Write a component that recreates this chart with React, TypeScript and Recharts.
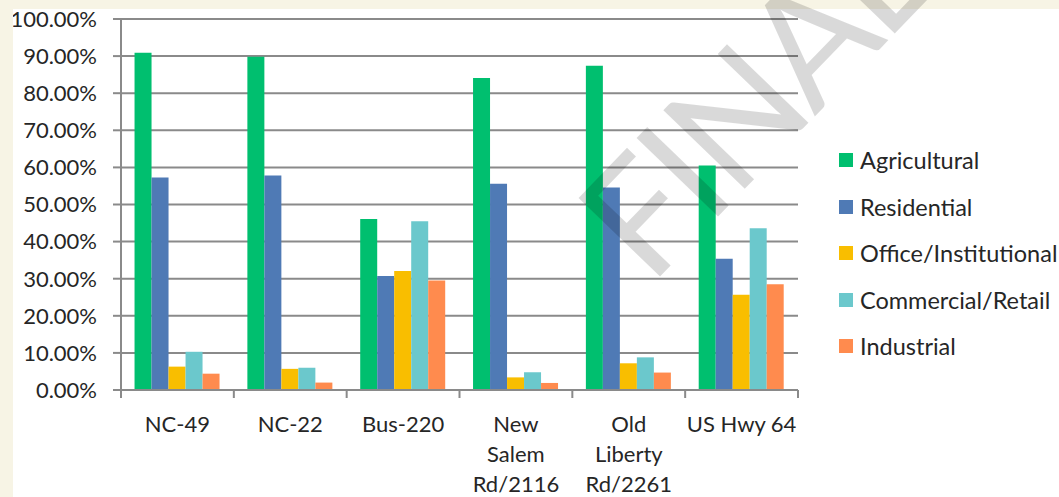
import React from 'react';
import { BarChart, Bar, XAxis, YAxis, CartesianGrid } from 'recharts';

const categories = ['NC-49', 'NC-22', 'Bus-220', 'New\nSalem\nRd/2116', 'Old\nLiberty\nRd/2261', 'US Hwy 64'];

const agricultural = [90.9, 89.8, 46.1, 84.1, 87.4, 60.5];
const residential = [57.3, 57.8, 30.7, 55.6, 54.6, 35.4];
const officeInstitutional = [6.3, 5.7, 32.1, 3.4, 7.2, 25.7];
const commercialRetail = [10.3, 6.0, 45.5, 4.8, 8.8, 43.6];
const industrial = [4.4, 2.0, 29.5, 1.9, 4.7, 28.5];

const yTicks = [0, 10, 20, 30, 40, 50, 60, 70, 80, 90, 100];

const series = [
    { key: 'agricultural', name: 'Agricultural', color: '#00bf6f', values: agricultural },
    { key: 'residential', name: 'Residential', color: '#4f7ab5', values: residential },
    { key: 'office', name: 'Office/Institutional', color: '#f9be00', values: officeInstitutional },
    { key: 'commercial', name: 'Commercial/Retail', color: '#6bc8cc', values: commercialRetail },
    { key: 'industrial', name: 'Industrial', color: '#ff8b4e', values: industrial },
];

const data = categories.map((cat, i) => {
    const row: Record<string, string | number> = { category: cat };
    series.forEach((s) => {
        row[s.key] = s.values[i];
    });
    return row;
});

const FONT = 'Lato, "Open Sans", sans-serif';
const TEXT = '#262626';
const GRID = '#8a8a8a';

const CategoryTick = (props: any) => {
    const { x, y, payload, index, visibleTicksCount } = props;
    const half = payload.offset ?? 0;
    const lines = String(payload.value).split('\n');
    return (
        <g>
            <line x1={x - half} y1={y} x2={x - half} y2={y + 8} stroke={GRID} strokeWidth={2} />
            {index === visibleTicksCount - 1 && (
                <line x1={x + half} y1={y} x2={x + half} y2={y + 8} stroke={GRID} strokeWidth={2} />
            )}
            <text x={x} y={y + 42} textAnchor="middle" fill={TEXT} fontSize={22} fontFamily={FONT}>
                {lines.map((ln, i) => (
                    <tspan key={i} x={x} dy={i === 0 ? 0 : 30}>
                        {ln}
                    </tspan>
                ))}
            </text>
        </g>
    );
};

export default function App() {
    return (
        <div
            style={{
                position: 'absolute',
                left: 0,
                top: 0,
                width: 1059,
                height: 497,
                background: '#f7f4e5',
                overflow: 'hidden',
            }}
        >
            <div style={{ position: 'absolute', left: 13, top: 9, width: 1046, height: 488, background: '#ffffff' }}>
                <BarChart
                    width={1046}
                    height={488}
                    data={data}
                    margin={{ top: 10, right: 261, bottom: 0, left: 0 }}
                    barGap={0}
                    barCategoryGap="12%"
                >
                    <CartesianGrid vertical={false} stroke={GRID} strokeWidth={2} />
                    <XAxis
                        dataKey="category"
                        interval={0}
                        height={107}
                        tickSize={0}
                        tickMargin={0}
                        tickLine={false}
                        axisLine={{ stroke: GRID, strokeWidth: 2 }}
                        tick={<CategoryTick />}
                    />
                    <YAxis
                        width={108}
                        domain={[0, 100]}
                        ticks={yTicks}
                        interval={0}
                        tickSize={8}
                        tickMargin={16}
                        tickLine={{ stroke: GRID, strokeWidth: 2 }}
                        axisLine={{ stroke: GRID, strokeWidth: 2 }}
                        tickFormatter={(v: number) => `${v.toFixed(2)}%`}
                        tick={{ fill: TEXT, fontSize: 22, fontFamily: FONT }}
                    />
                    {series.map((s) => (
                        <Bar key={s.key} dataKey={s.key} name={s.name} fill={s.color} isAnimationActive={false} />
                    ))}
                </BarChart>
            </div>

            <div style={{ position: 'absolute', left: 839, top: 137, fontFamily: FONT, fontSize: 23.5, color: TEXT }}>
                {series.map((s) => (
                    <div key={s.key} style={{ display: 'flex', alignItems: 'center', height: 46.5, whiteSpace: 'nowrap' }}>
                        <span style={{ width: 14, height: 14, background: s.color, marginRight: 7, display: 'inline-block' }} />
                        <span>{s.name}</span>
                    </div>
                ))}
            </div>

            <svg
                width={1059}
                height={497}
                style={{ position: 'absolute', left: 0, top: 0, pointerEvents: 'none' }}
            >
                <text
                    x={650}
                    y={287}
                    transform="rotate(-46 650 287)"
                    fontSize={158}
                    fontFamily={FONT}
                    textLength={419}
                    lengthAdjust="spacing"
                    fill="#000000"
                    fillOpacity={0.15}
                >
                    FINAL
                </text>
            </svg>
        </div>
    );
}
